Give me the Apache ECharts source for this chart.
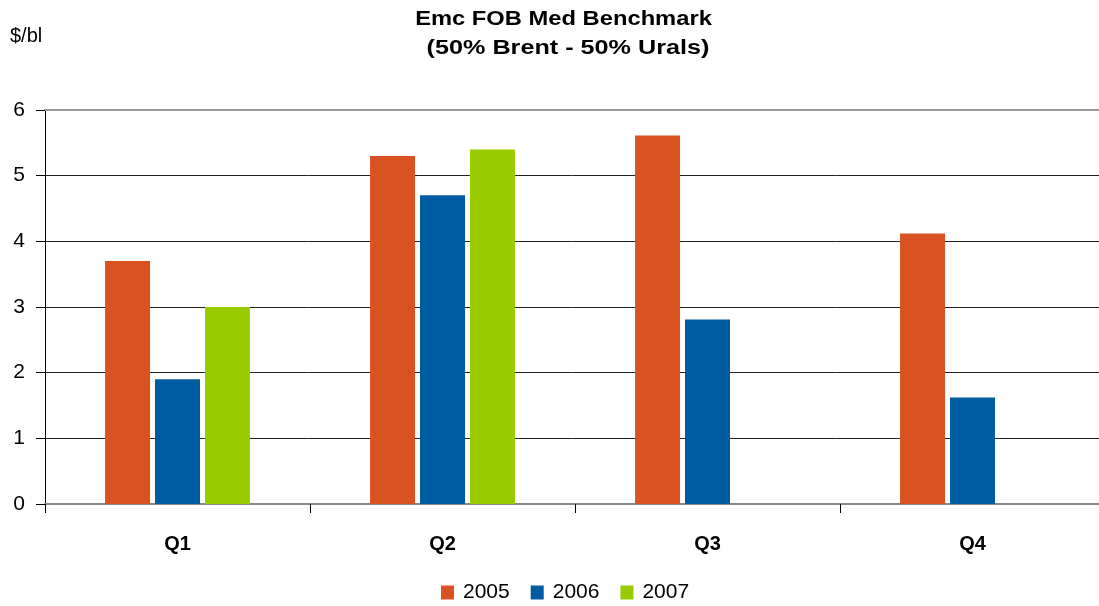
<!DOCTYPE html>
<html>
<head>
<meta charset="utf-8">
<script src="https://cdn.jsdelivr.net/npm/echarts@6/dist/echarts.min.js"></script>
<style>
  html, body { margin: 0; padding: 0; background: #fff; }
  #chart { width: 1099px; height: 606px; }
</style>
</head>
<body>
<div id="chart"></div>
<script>
// Quarterly spread, $/bl
const quarters = ['Q1', 'Q2', 'Q3', 'Q4'];
const years = ['2005', '2006', '2007'];
const values2005 = [3.7, 5.3, 5.61, 4.12];
const values2006 = [1.9, 4.7, 2.81, 1.62];
const values2007 = [3.0, 5.4, null, null];
const yTicks = [0, 1, 2, 3, 4, 5, 6];
const titleLines = ['Emc FOB Med Benchmark', '(50% Brent - 50% Urals)'];
const unitLabel = '$/bl';

const colors = ['#D95222', '#005CA1', '#99CC00'];
const FONT = "'Liberation Sans', Arial, sans-serif";

const seriesData = [values2005, values2006, values2007];

const chart = echarts.init(document.getElementById('chart'), null, { renderer: 'canvas' });
chart.setOption({
  animation: false,
  backgroundColor: '#ffffff',
  graphic: [
    {
      type: 'text', x: 563.5, y: 19, scaleX: 1.13,
      style: {
        text: titleLines[0], font: 'bold 21px ' + FONT, fill: '#000',
        align: 'center', verticalAlign: 'middle'
      }
    },
    {
      type: 'text', x: 568, y: 48, scaleX: 1.2,
      style: {
        text: titleLines[1], font: 'bold 21px ' + FONT, fill: '#000',
        align: 'center', verticalAlign: 'middle'
      }
    },
    {
      type: 'text', x: 10, y: 36,
      style: {
        text: unitLabel, font: '20px ' + FONT, fill: '#000',
        align: 'left', verticalAlign: 'middle'
      }
    }
  ],
  legend: {
    data: years,
    left: 436, top: 577,
    icon: 'rect', itemWidth: 13, itemHeight: 14, itemGap: 21,
    textStyle: { fontFamily: FONT, fontSize: 21, color: '#000', padding: [0, 0, 0, 4] }
  },
  grid: {
    left: 45, top: 110, right: -6, bottom: 102,
    containLabel: false, outerBoundsMode: 'none'
  },
  xAxis: [
    {
      type: 'category', data: quarters, position: 'bottom',
      axisLine: { lineStyle: { color: '#888', width: 2 } },
      axisTick: { show: true, length: 9, lineStyle: { color: '#000', width: 1 } },
      axisLabel: { fontFamily: FONT, fontSize: 20, fontWeight: 'bold', color: '#000', margin: 30 }
    },
    {
      type: 'category', data: quarters, position: 'top',
      axisLine: { lineStyle: { color: '#999', width: 2 } },
      axisTick: { show: false }, axisLabel: { show: false }
    }
  ],
  yAxis: {
    type: 'value', min: 0, max: 6, interval: 1,
    axisLine: { show: true, lineStyle: { color: '#000', width: 1 } },
    axisTick: { show: true, length: 9, lineStyle: { color: '#000' } },
    axisLabel: {
      fontFamily: FONT, fontSize: 21, color: '#000', margin: 20,
      formatter: v => (yTicks.includes(v) ? String(v) : '')
    },
    splitLine: { show: true, lineStyle: { color: '#222', width: 1 } }
  },
  series: years.map((y, i) => ({
    name: y,
    type: 'bar',
    data: seriesData[i],
    barWidth: 45,
    barGap: '11%',
    itemStyle: { color: colors[i] }
  }))
});
</script>
</body>
</html>
